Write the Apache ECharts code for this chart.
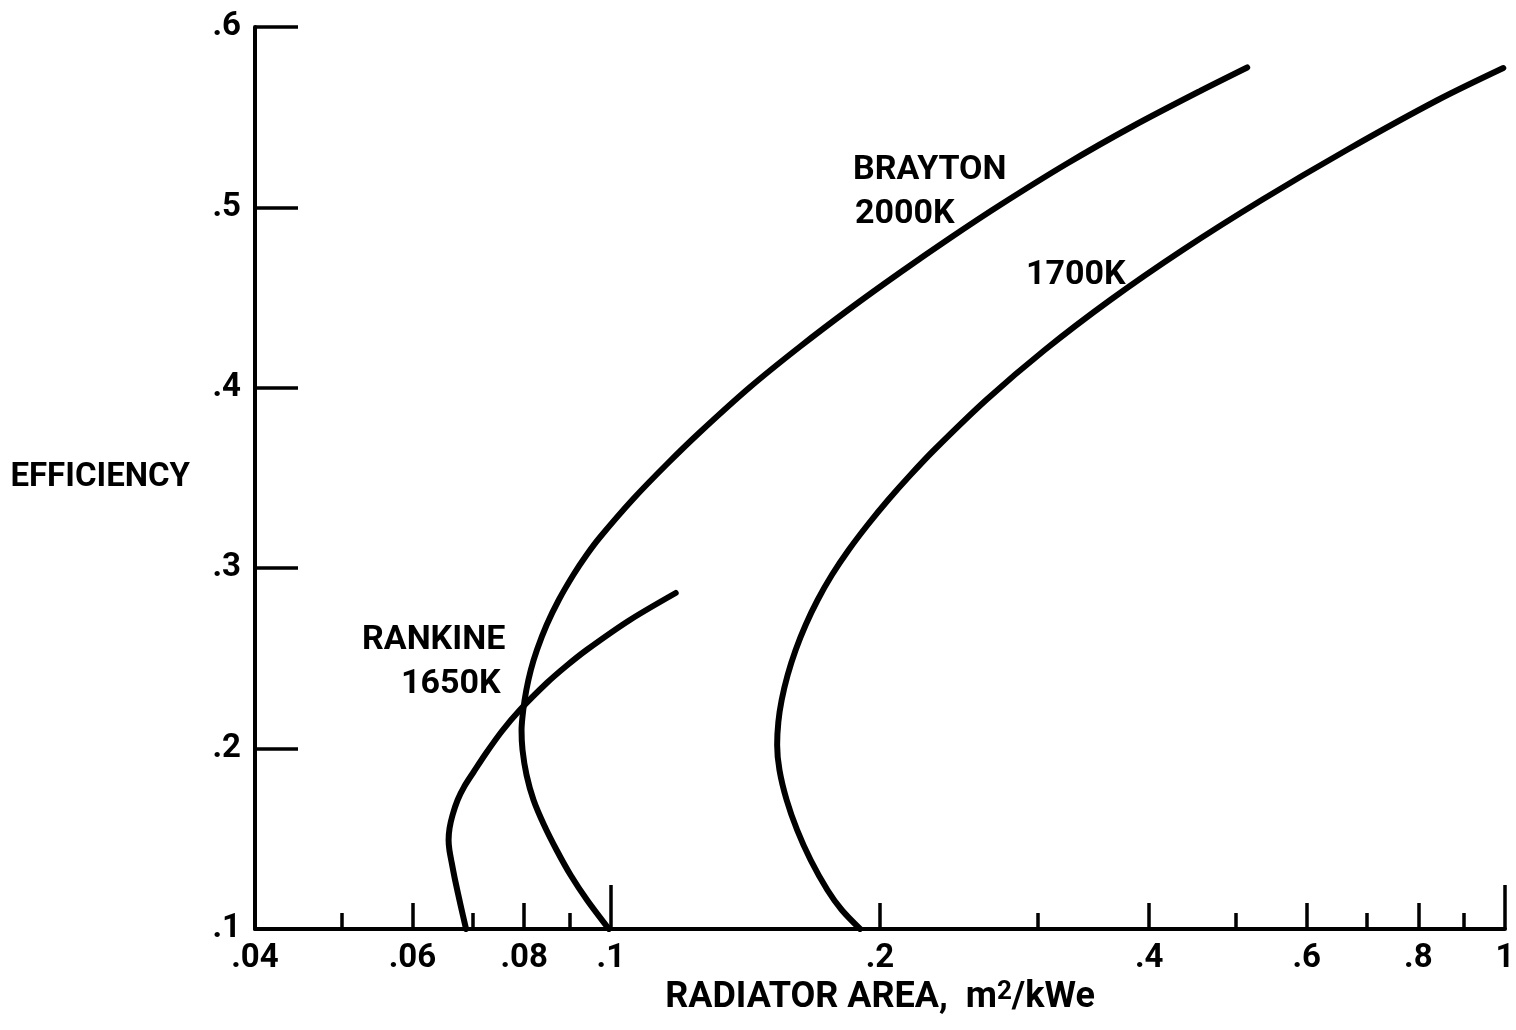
<!DOCTYPE html>
<html><head><meta charset="utf-8">
<script src="https://cdn.jsdelivr.net/npm/echarts@6/dist/echarts.min.js"></script>
<style>html,body{margin:0;padding:0;background:#fff}#c{width:1516px;height:1030px}</style>
</head><body><div id="c"></div>
<script>
const FONT = "Roboto, 'Liberation Sans', sans-serif";

// Brayton 2000K (radiator area m2/kWe, efficiency)
const brayton2000Area = [0.0995, 0.09406, 0.09015, 0.08696, 0.08420, 0.08195, 0.08049, 0.07966, 0.07946, 0.07981, 0.08045, 0.08138, 0.08267, 0.08476, 0.08745, 0.09078, 0.09394, 0.09729, 0.10592, 0.11558, 0.12586, 0.14315, 0.16282, 0.18519, 0.21064, 0.23958, 0.27252, 0.32383, 0.38386, 0.45616, 0.51488];
const brayton2000Eff  = [0.100, 0.11608, 0.12993, 0.14379, 0.15765, 0.17151, 0.18537, 0.19922, 0.21031, 0.2214, 0.23248, 0.24357, 0.25466, 0.26851, 0.28237, 0.29623, 0.30732, 0.3173, 0.33836, 0.35776, 0.3755, 0.40044, 0.4229, 0.44396, 0.46391, 0.48304, 0.50133, 0.52433, 0.54512, 0.56452, 0.57755];
// Brayton 1700K
const brayton1700Area = [0.19002, 0.18127, 0.17467, 0.16728, 0.16157, 0.15726, 0.15438, 0.15346, 0.15394, 0.15526, 0.15767, 0.16095, 0.16514, 0.17032, 0.17668, 0.18448, 0.19369, 0.20422, 0.21628, 0.22991, 0.26287, 0.30564, 0.36184, 0.43604, 0.53448, 0.66536, 0.84096, 0.99562];
const brayton1700Eff  = [0.100, 0.11053, 0.12162, 0.13825, 0.15488, 0.17151, 0.18814, 0.202, 0.21475, 0.22694, 0.2408, 0.25466, 0.26851, 0.28237, 0.29623, 0.31009, 0.32395, 0.3378, 0.35166, 0.36552, 0.39324, 0.42095, 0.44867, 0.47639, 0.5041, 0.53182, 0.55953, 0.57727];
// Rankine 1650K
const rankine1650Area = [0.06888, 0.06791, 0.06696, 0.06636, 0.06599, 0.06585, 0.06602, 0.06653, 0.0674, 0.06862, 0.07023, 0.07254, 0.07557, 0.07911, 0.08479, 0.08916, 0.09394, 0.10502, 0.11819];
const rankine1650Eff  = [0.100, 0.1133, 0.12716, 0.13714, 0.14379, 0.14933, 0.15599, 0.16319, 0.17151, 0.17927, 0.18703, 0.19756, 0.20976, 0.2214, 0.23636, 0.24579, 0.25466, 0.27129, 0.28625];

const xLabelValues = [0.04, 0.06, 0.08, 0.1, 0.2, 0.4, 0.6, 0.8, 1];
const xTicksLong  = [0.1, 1];
const xTicksMid   = [0.06, 0.08, 0.2, 0.4, 0.6, 0.8];
const xTicksShort = [0.05, 0.07, 0.09, 0.3, 0.5, 0.7, 0.9];

const zip = (a, b) => a.map((v, i) => [v, b[i]]);
const fmtX = v => v >= 1 ? '1' : String(+v.toPrecision(3)).replace(/^0/, '');

function tickAxis(values, len, showLine, showLabel) {
  return {
    type: 'log', logBase: 10, min: 0.04, max: 1, position: 'bottom', gridIndex: 0,
    axisLine: { show: showLine, onZero: false, lineStyle: { color: '#000', width: 4 } },
    axisTick: values ? { show: true, inside: true, length: len, customValues: values,
      lineStyle: { color: '#000', width: 3.5 } } : { show: false },
    axisLabel: showLabel ? { show: true, customValues: xLabelValues, formatter: fmtX,
      margin: 13, color: '#000', fontFamily: FONT, fontWeight: 'bold', fontSize: 33 } : { show: false },
    splitLine: { show: false }, minorTick: { show: false }
  };
}

const lineStyle = { color: '#000', width: 6, cap: 'round', join: 'round' };

const chart = echarts.init(document.getElementById('c'));
chart.setOption({
  backgroundColor: '#fff',
  animation: false,
  grid: { left: 255, right: 11, top: 27, bottom: 101, containLabel: false, outerBoundsMode: 'none' },
  xAxis: [
    Object.assign(tickAxis(null, 0, true, true), {
      name: 'RADIATOR AREA,  m{sup|2}/kWe', nameLocation: 'middle', nameGap: 48,
      nameTextStyle: { color: '#000', fontFamily: FONT, fontWeight: 'bold', fontSize: 36,
        rich: { sup: { fontFamily: FONT, fontWeight: 'bold', fontSize: 26, verticalAlign: 'top', color: '#000' } } }
    }),
    tickAxis(xTicksLong, 44, false, false),
    tickAxis(xTicksMid, 26, false, false),
    tickAxis(xTicksShort, 16, false, false)
  ],
  yAxis: {
    type: 'value', min: 0.1, max: 0.6, interval: 0.1,
    name: 'EFFICIENCY', nameLocation: 'middle', nameRotate: 0, nameGap: 65,
    nameTextStyle: { color: '#000', fontFamily: FONT, fontWeight: 'bold', fontSize: 33 },
    axisLine: { show: true, onZero: false, lineStyle: { color: '#000', width: 4 } },
    axisTick: { show: true, inside: true, length: 43, lineStyle: { color: '#000', width: 3.5 } },
    axisLabel: { formatter: v => '.' + Math.round(v * 10), margin: 14, color: '#000',
      fontFamily: FONT, fontWeight: 'bold', fontSize: 33 },
    splitLine: { show: false }
  },
  series: [
    { name: 'BRAYTON 2000K', type: 'line', data: zip(brayton2000Area, brayton2000Eff), smooth: 0.3,
      showSymbol: false, lineStyle: lineStyle },
    { name: 'BRAYTON 1700K', type: 'line', data: zip(brayton1700Area, brayton1700Eff), smooth: 0.3,
      showSymbol: false, lineStyle: lineStyle },
    { name: 'RANKINE 1650K', type: 'line', data: zip(rankine1650Area, rankine1650Eff), smooth: 0.3,
      showSymbol: false, lineStyle: lineStyle }
  ],
  graphic: [
    { type: 'text', x: 853, y: 170, style: { text: 'BRAYTON', font: 'bold 34px ' + FONT, fill: '#000', verticalAlign: 'middle' } },
    { type: 'text', x: 855, y: 214, style: { text: '2000K', font: 'bold 34px ' + FONT, fill: '#000', verticalAlign: 'middle' } },
    { type: 'text', x: 1026, y: 275, style: { text: '1700K', font: 'bold 34px ' + FONT, fill: '#000', verticalAlign: 'middle' } },
    { type: 'text', x: 362, y: 640, style: { text: 'RANKINE', font: 'bold 34px ' + FONT, fill: '#000', verticalAlign: 'middle' } },
    { type: 'text', x: 401, y: 684, style: { text: '1650K', font: 'bold 34px ' + FONT, fill: '#000', verticalAlign: 'middle' } }
  ]
});
</script></body></html>
